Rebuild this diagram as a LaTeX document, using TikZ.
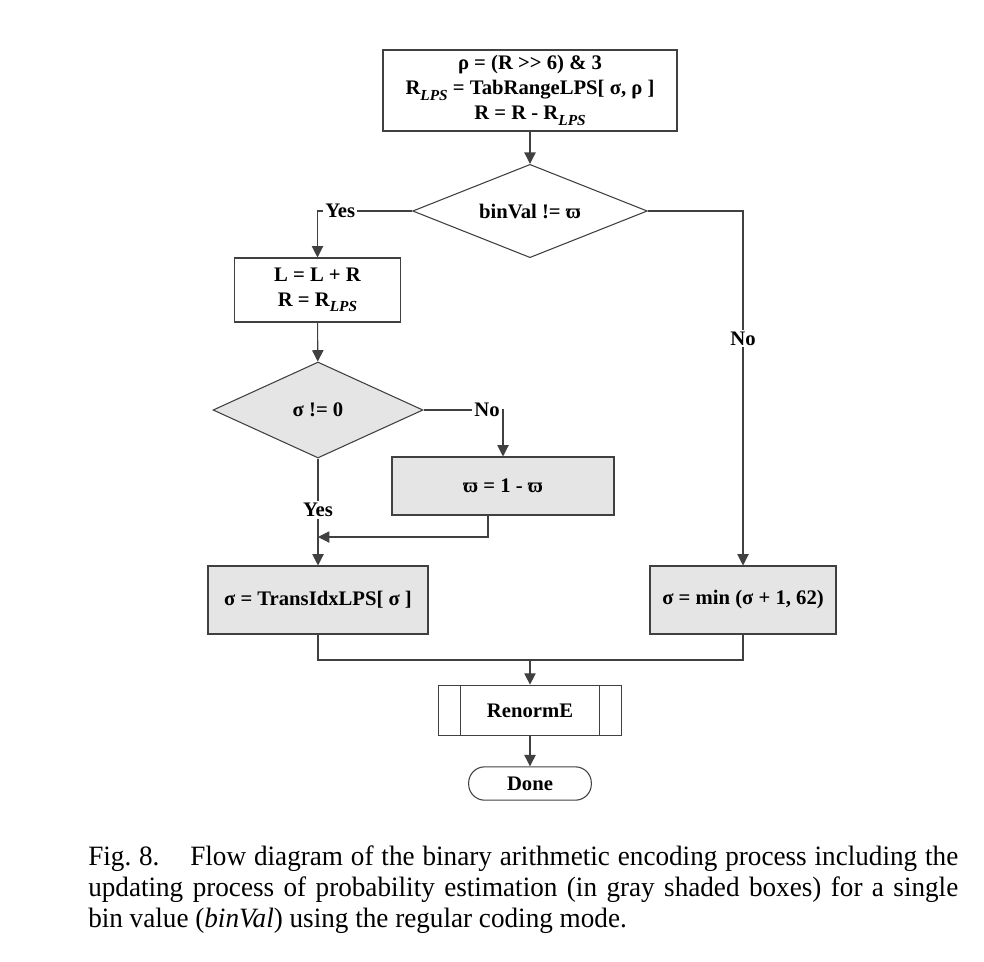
\documentclass[tikz,border=0pt]{standalone}
\usepackage{fontspec}
\setmainfont{Liberation Serif}
\newfontfamily\capfont[FakeStretch=0.97]{Liberation Serif}
\usetikzlibrary{shapes.geometric,arrows.meta}

\newcommand{\rlps}{R\raisebox{-0.55ex}{\fontsize{11.5}{11.5}\selectfont\itshape LPS}}

\begin{document}
\begin{tikzpicture}[x=0.75pt,y=-0.75pt,
  line_col/.style={draw=black!75,line width=0.8pt},
  box_node/.style={rectangle,line_col,inner sep=0pt,align=center,font=\fontsize{15.5}{18.75}\selectfont\bfseries},
  gray_node/.style={box_node,fill=black!10},
  test_node/.style={diamond,shape aspect=2.6,line_col,inner sep=0pt,font=\fontsize{15.5}{18.75}\selectfont\bfseries},
  lbl_node/.style={fill=white,inner sep=1.5pt,font=\fontsize{15.5}{18.75}\selectfont\bfseries},
  arr/.style={line_col,-{Triangle[length=8.5pt,width=8.5pt]}}]
  \useasboundingbox (0,0) rectangle (984,961);

  \node[box_node,minimum width=220.5pt,minimum height=60.75pt] (1) at (530,90.5)
    {ρ = (R >\kern0pt> 6) \& 3\\ \rlps{} = TabRangeLPS[ σ, ρ ]\\ R = R - \rlps};
  \node[test_node,fill=white,minimum width=176pt,minimum height=70pt] (2) at (530,211) {binVal != ϖ};
  \node[box_node,minimum width=124pt,minimum height=48pt] (3) at (317.5,290) {L = L + R\\ R = \rlps};
  \node[test_node,fill=black!10,minimum width=157.5pt,minimum height=72pt] (4) at (318,410) {σ != 0};
  \node[gray_node,minimum width=166.5pt,minimum height=43.5pt] (5) at (503,486) {ϖ = 1 - ϖ};
  \node[gray_node,minimum width=165pt,minimum height=51pt] (6) at (318,600) {σ = TransIdxLPS[ σ ]};
  \node[gray_node,minimum width=139.5pt,minimum height=51pt] (7) at (743,600) {σ = min (σ + 1, 62)};
  \node[box_node,minimum width=137pt,minimum height=38pt] (8) at (530,710.5) {RenormE};
  \draw[line_col] ([xshift=17pt]8.north west) -- ([xshift=17pt]8.south west);
  \draw[line_col] ([xshift=-17pt]8.north east) -- ([xshift=-17pt]8.south east);
  \node[box_node,rounded corners=12pt,minimum width=92pt,minimum height=25pt] (9) at (530,783.5) {Done};
  \coordinate (10) at (318,537);
  \coordinate (11) at (530,660);

  \draw[arr] (1) -- (2);
  \draw[arr] (2.west) -| node[lbl_node,pos=0.38] {Yes} (3.north);
  \draw[arr] (2.east) -| node[lbl_node,pos=0.68] {No} (7.north);
  \draw[arr] (3) -- (4);
  \draw[arr] (4.east) -| node[lbl_node,pos=0.4] {No} (5.north);
  \draw[arr] (4.south) -- node[lbl_node,pos=0.48] {Yes} (6.north);
  \draw[arr] ([xshift=-11.25pt]5.south) |- (10);
  \draw[line_col] (6.south) |- (11);
  \draw[line_col] (7.south) |- (11);
  \draw[arr] (11) -- (8);
  \draw[arr] (8) -- (9);

  \node[anchor=north west,inner sep=0pt,text width=652.5pt,align=justify,
    font=\capfont\fontsize{21}{23.25}\selectfont] (12) at (88,845)
    {Fig.~8.\hspace{1.1em}Flow diagram of the binary arithmetic encoding process including the\linebreak
     updating process of probability estimation (in gray shaded boxes) for a single\linebreak
     bin value (\textit{binVal}) using the regular coding mode.};
\end{tikzpicture}
\end{document}
